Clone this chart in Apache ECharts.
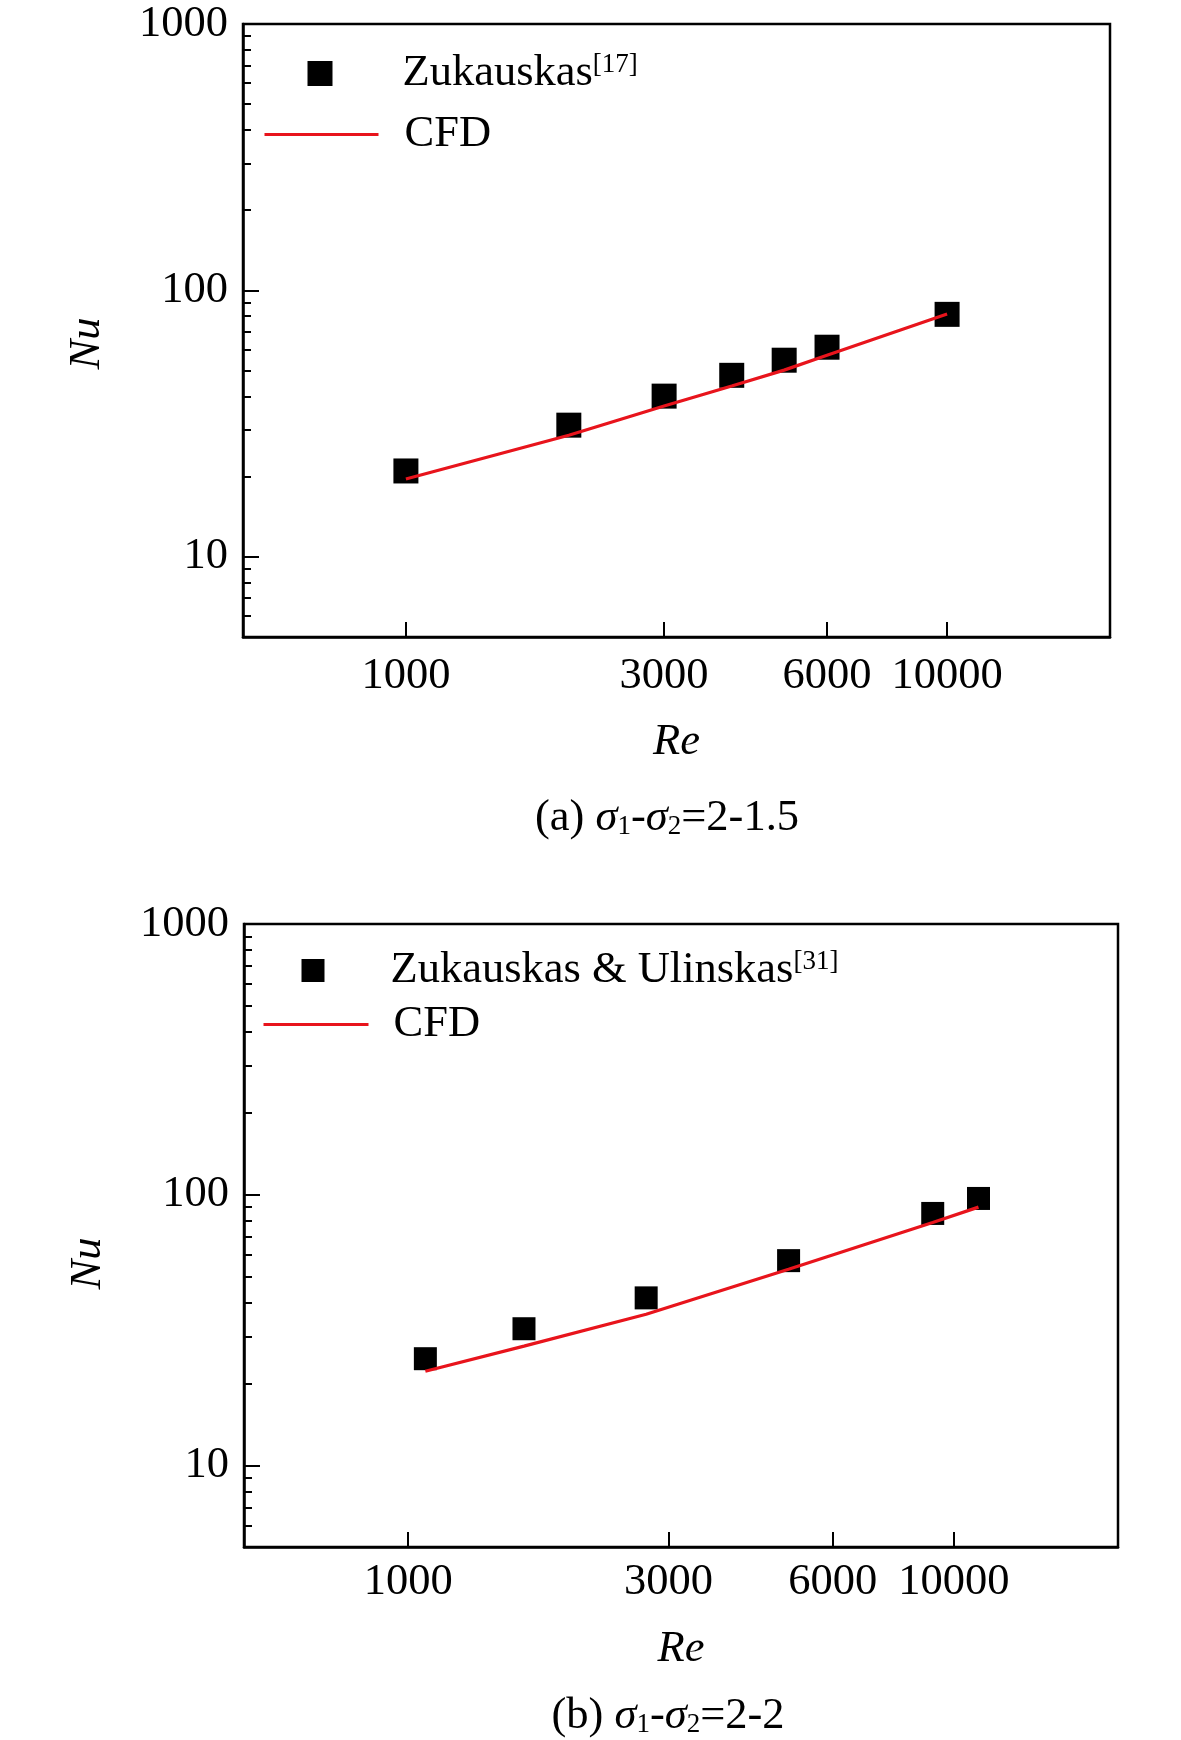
<!DOCTYPE html>
<html><head><meta charset="utf-8">
<script src="https://cdn.jsdelivr.net/npm/echarts@6/dist/echarts.min.js"></script>
<style>html,body{margin:0;padding:0;background:#fff}#c{width:1181px;height:1740px}</style>
</head><body><div id="c"></div>
<script>
// ---- data ----
const reTickValues = [1000, 3000, 6000, 10000];
const nuMajorTicks = [10, 100, 1000];
const nuMinorTicks = [6, 7, 8, 9, 20, 30, 40, 50, 60, 70, 80, 90, 200, 300, 400, 500, 600, 700, 800, 900];

// (a) sigma1-sigma2 = 2-1.5
const reA_exp = [1000, 2000, 3000, 4000, 5000, 6000, 10000];
const nuA_exp = [21.0, 31.2, 40.1, 48.0, 54.7, 61.2, 81.3];
const reA_cfd = [1000, 2000, 3000, 4000, 5000, 6000, 10000];
const nuA_cfd = [19.6, 28.6, 36.8, 43.8, 50.2, 57.1, 81.6];

// (b) sigma1-sigma2 = 2-2
const reB_exp = [1075, 1630, 2730, 4980, 9150, 11100];
const nuB_exp = [24.8, 32.0, 41.6, 57.1, 85.3, 96.9];
const reB_cfd = [1075, 1630, 2730, 4980, 9150, 11100];
const nuB_cfd = [22.3, 27.6, 36.2, 53.1, 79.0, 90.0];

const nameA_exp = 'Zukauskas[17]';
const nameB_exp = 'Zukauskas & Ulinskas[31]';
const nameCFD = 'CFD';

// ---- chart ----
const FONT = 'Liberation Serif';
const RED = '#e8141c';
const FS = 44.5;
const chart = echarts.init(document.getElementById('c'), null, {renderer: 'canvas'});

function fmt(v) {
  let n = v;
  if (n <= 4.5) n = Math.pow(10, n);
  return String(Math.round(n));
}
function pairs(xs, ys) { return xs.map((x, i) => [x, ys[i]]); }

function xAxisOf(gi, margin, nameGap) {
  return {
    type: 'log', gridIndex: gi, min: 500, max: 20000, logBase: 10,
    name: 'Re', nameLocation: 'middle', nameGap: nameGap,
    nameTextStyle: {fontFamily: FONT, fontStyle: 'italic', fontSize: FS, color: '#000'},
    axisLine: {show: true, onZero: false, lineStyle: {color: '#000', width: 2.5}},
    axisTick: {show: true, inside: true, length: 15, lineStyle: {color: '#000', width: 2}, customValues: reTickValues},
    axisLabel: {show: true, customValues: reTickValues, formatter: fmt, fontFamily: FONT, fontSize: FS, color: '#000', margin: margin},
    splitLine: {show: false}, minorTick: {show: false}, minorSplitLine: {show: false}
  };
}
function yAxisMain(gi, padRight) {
  return {
    type: 'log', gridIndex: gi, min: 5, max: 1000, logBase: 10, position: 'left',
    name: 'Nu', nameLocation: 'middle', nameGap: 133,
    nameTextStyle: {fontFamily: FONT, fontStyle: 'italic', fontSize: FS, color: '#000', padding: [0, padRight, 0, 0]},
    axisLine: {show: true, onZero: false, lineStyle: {color: '#000', width: 2.5}},
    axisTick: {show: true, inside: true, length: 16, lineStyle: {color: '#000', width: 2}, customValues: nuMajorTicks},
    axisLabel: {show: true, customValues: nuMajorTicks, formatter: fmt, fontFamily: FONT, fontSize: FS, color: '#000', margin: 15},
    splitLine: {show: false}, minorTick: {show: false}, minorSplitLine: {show: false}
  };
}
function yAxisMinor(gi) {
  return {
    type: 'log', gridIndex: gi, min: 5, max: 1000, logBase: 10, position: 'left',
    axisLine: {show: false},
    axisTick: {show: true, inside: true, length: 8, lineStyle: {color: '#000', width: 2}, customValues: nuMinorTicks},
    axisLabel: {show: false, customValues: nuMinorTicks},
    splitLine: {show: false}, minorTick: {show: false}
  };
}

function legendRich() {
  return {
    m: {fontFamily: FONT, fontSize: FS, color: '#000', lineHeight: 44},
    s: {fontFamily: FONT, fontSize: 27, color: '#000', lineHeight: 27, verticalAlign: 'top'}
  };
}
function legendFmt(name) {
  const m = name.match(/^(.*)\[(\d+)\]$/);
  if (m) return '{m|' + m[1] + '}{s|[' + m[2] + ']}';
  return '{m|' + name + '}';
}
function legendOf(name, left, top, iw, ih, padL, isLine) {
  const lg = {
    data: [name], left: left, top: top, orient: 'vertical', padding: 0,
    itemWidth: iw, itemHeight: ih, selectedMode: false,
    formatter: legendFmt,
    textStyle: {padding: [0, 0, 0, padL], rich: legendRich()}
  };
  if (isLine) {
    lg.itemStyle = {opacity: 0, color: 'rgba(0,0,0,0)', borderColor: 'rgba(0,0,0,0)', borderWidth: 0};
    lg.lineStyle = {color: RED, width: 3, opacity: 1};
  } else {
    lg.itemStyle = {color: '#000', opacity: 1};
  }
  return lg;
}

const capRich = {
  t: {fontFamily: FONT, fontSize: FS, fill: '#000', lineHeight: 44},
  i: {fontFamily: FONT, fontSize: FS, fontStyle: 'italic', fill: '#000', lineHeight: 44},
  s: {fontFamily: FONT, fontSize: 27, fill: '#000', lineHeight: 30, verticalAlign: 'bottom'}
};

const option = {
  backgroundColor: '#fff',
  animation: false,
  grid: [
    {left: 243, top: 24, width: 867, height: 613, show: true, borderColor: '#000', borderWidth: 2.5, backgroundColor: 'transparent'},
    {left: 244, top: 924, width: 874, height: 623, show: true, borderColor: '#000', borderWidth: 2.5, backgroundColor: 'transparent'}
  ],
  xAxis: [xAxisOf(0, 17, 83), xAxisOf(1, 13, 80)],
  yAxis: [yAxisMain(0, 26), yAxisMinor(0), yAxisMain(1, 56), yAxisMinor(1)],
  legend: [
    legendOf(nameA_exp, 307.5, 51, 25, 25, 65, false),
    legendOf(nameCFD, 263, 112, 114, 25, 21, true),
    legendOf(nameB_exp, 301.5, 948, 23, 23, 61, false),
    legendOf(nameCFD, 262, 1002, 105, 25, 20, true)
  ],
  series: [
    {type: 'scatter', name: nameA_exp, xAxisIndex: 0, yAxisIndex: 0, symbol: 'rect', symbolSize: 25,
     itemStyle: {color: '#000', opacity: 1}, data: pairs(reA_exp, nuA_exp), z: 2},
    {type: 'line', name: nameCFD, xAxisIndex: 0, yAxisIndex: 0, symbol: 'none', showSymbol: false,
     lineStyle: {color: RED, width: 3.2}, itemStyle: {color: RED}, data: pairs(reA_cfd, nuA_cfd), z: 3},
    {type: 'scatter', name: nameB_exp, xAxisIndex: 1, yAxisIndex: 2, symbol: 'rect', symbolSize: 23,
     itemStyle: {color: '#000', opacity: 1}, data: pairs(reB_exp, nuB_exp), z: 2},
    {type: 'line', name: nameCFD, xAxisIndex: 1, yAxisIndex: 2, symbol: 'none', showSymbol: false,
     lineStyle: {color: RED, width: 3.2}, itemStyle: {color: RED}, data: pairs(reB_cfd, nuB_cfd), z: 3}
  ],
  graphic: [
    {type: 'text', x: 667, y: 818, style: {text: '{t|(a) }{i|σ}{s|1}{t|-}{i|σ}{s|2}{t|=2-1.5}', rich: capRich, align: 'center', verticalAlign: 'middle'}},
    {type: 'text', x: 668, y: 1716, style: {text: '{t|(b) }{i|σ}{s|1}{t|-}{i|σ}{s|2}{t|=2-2}', rich: capRich, align: 'center', verticalAlign: 'middle'}}
  ]
};
chart.setOption(option);
</script>
</body></html>
